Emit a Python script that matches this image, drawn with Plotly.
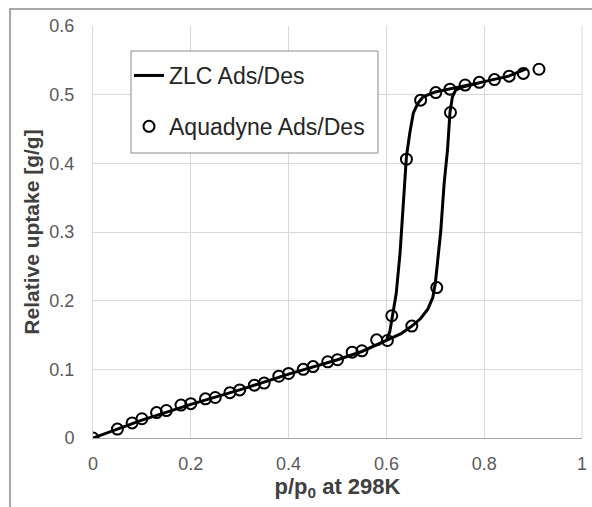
import plotly.graph_objects as go

# ZLC model curve (adsorption then desorption branch)
zlc_ads_x = [0, 0.1, 0.2, 0.3, 0.4, 0.5, 0.55, 0.6, 0.63, 0.652, 0.67, 0.685, 0.695, 0.700,
             0.705, 0.711, 0.718, 0.725, 0.730, 0.735, 0.742, 0.76, 0.80, 0.85, 0.887]
zlc_ads_y = [0, 0.026, 0.049, 0.070, 0.093, 0.114, 0.126, 0.142, 0.152, 0.163, 0.174, 0.188, 0.205, 0.225,
             0.26, 0.30, 0.37, 0.42, 0.474, 0.497, 0.507, 0.512, 0.519, 0.527, 0.538]
zlc_des_x = [0.887, 0.85, 0.80, 0.75, 0.70, 0.675, 0.664, 0.655, 0.648, 0.641, 0.635, 0.628,
             0.620, 0.613, 0.607, 0.600]
zlc_des_y = [0.538, 0.527, 0.519, 0.512, 0.504, 0.497, 0.487, 0.473, 0.445, 0.41, 0.35, 0.27,
             0.21, 0.177, 0.155, 0.142]

# Aquadyne measured points
aq_x = [0, 0.05, 0.08, 0.10, 0.13, 0.15, 0.18, 0.20, 0.23, 0.25, 0.28, 0.30, 0.33, 0.35, 0.38,
        0.40, 0.43, 0.45, 0.48, 0.50, 0.53, 0.55, 0.58, 0.602, 0.611, 0.652, 0.703, 0.731,
        0.641, 0.670, 0.701, 0.730, 0.761, 0.790, 0.821, 0.851, 0.880, 0.912]
aq_y = [0, 0.013, 0.022, 0.028, 0.037, 0.040, 0.048, 0.050, 0.057, 0.059, 0.066, 0.070, 0.077, 0.080, 0.090,
        0.094, 0.100, 0.104, 0.111, 0.114, 0.125, 0.127, 0.143, 0.142, 0.178, 0.163, 0.219, 0.474,
        0.406, 0.492, 0.503, 0.508, 0.514, 0.518, 0.522, 0.527, 0.531, 0.537]

x_ticks = [0, 0.2, 0.4, 0.6, 0.8, 1]
x_labels = ["0", "0.2", "0.4", "0.6", "0.8", "1"]
y_ticks = [0, 0.1, 0.2, 0.3, 0.4, 0.5, 0.6]
y_labels = ["0", "0.1", "0.2", "0.3", "0.4", "0.5", "0.6"]

FONT = "Liberation Sans, Arial, sans-serif"

fig = go.Figure()
fig.add_trace(go.Scatter(
    x=zlc_ads_x + zlc_des_x[1:], y=zlc_ads_y + zlc_des_y[1:],
    mode="lines", line=dict(color="black", width=3),
    name="ZLC Ads/Des", legendgroup="a"))
fig.add_trace(go.Scatter(
    x=aq_x, y=aq_y, mode="markers",
    marker=dict(symbol="circle-open", size=11, color="black", line=dict(width=2, color="black")),
    name="Aquadyne Ads/Des", legendgroup="b"))

L, R, T, B = 93, 10, 26, 69
W, H = 592, 507
pw, ph = W - L - R, H - T - B

def px(xp):
    return (xp - L) / pw

def py(yp):
    return (H - B - yp) / ph

# outer chart frame
fig.add_shape(type="rect", xref="paper", yref="paper",
              x0=px(10), x1=px(620), y0=py(530), y1=py(9),
              line=dict(color="#8c8c8c", width=1.5), layer="below")
# legend box
fig.add_shape(type="rect", xref="paper", yref="paper",
              x0=px(131), x1=px(378), y0=py(153), y1=py(51),
              line=dict(color="#8c8c8c", width=1), fillcolor="white", layer="above")

fig.update_layout(
    width=W, height=H,
    margin=dict(l=L, r=R, t=T, b=B),
    paper_bgcolor="white", plot_bgcolor="white",
    font=dict(family=FONT, color="#595959"),
    showlegend=True,
    legend=dict(x=px(129), y=py(54), xanchor="left", yanchor="top",
                borderwidth=0, bgcolor="rgba(0,0,0,0)",
                font=dict(size=23, color="#262626", family=FONT),
                traceorder="grouped", tracegroupgap=18, itemwidth=30),
    xaxis=dict(range=[0, 1], tickvals=x_ticks, ticktext=x_labels, automargin=False,
               showgrid=True, gridcolor="#d9d9d9", gridwidth=1,
               zeroline=False, showline=True, linecolor="#a6a6a6", linewidth=1,
               mirror=False, ticks="", tickfont=dict(size=18, color="#595959"),
               ticklabelstandoff=9,
               title=dict(text="<b>p/p<sub>0</sub> at 298K</b>", font=dict(size=22, color="#404040"),
                          standoff=0)),
    yaxis=dict(range=[0, 0.6], tickvals=y_ticks, ticktext=y_labels, automargin=False,
               showgrid=True, gridcolor="#d9d9d9", gridwidth=1,
               zeroline=False, showline=True, linecolor="#d9d9d9", linewidth=1,
               ticks="", tickfont=dict(size=18, color="#595959"),
               ticklabelstandoff=14,
               title=dict(text="<b>Relative uptake [g/g]</b>", font=dict(size=21, color="#404040"),
                          standoff=4)),
)
fig.add_shape(type="line", xref="paper", yref="paper", x0=1, x1=1, y0=0, y1=1,
              line=dict(color="#d9d9d9", width=1))

fig.write_html("out.html")
